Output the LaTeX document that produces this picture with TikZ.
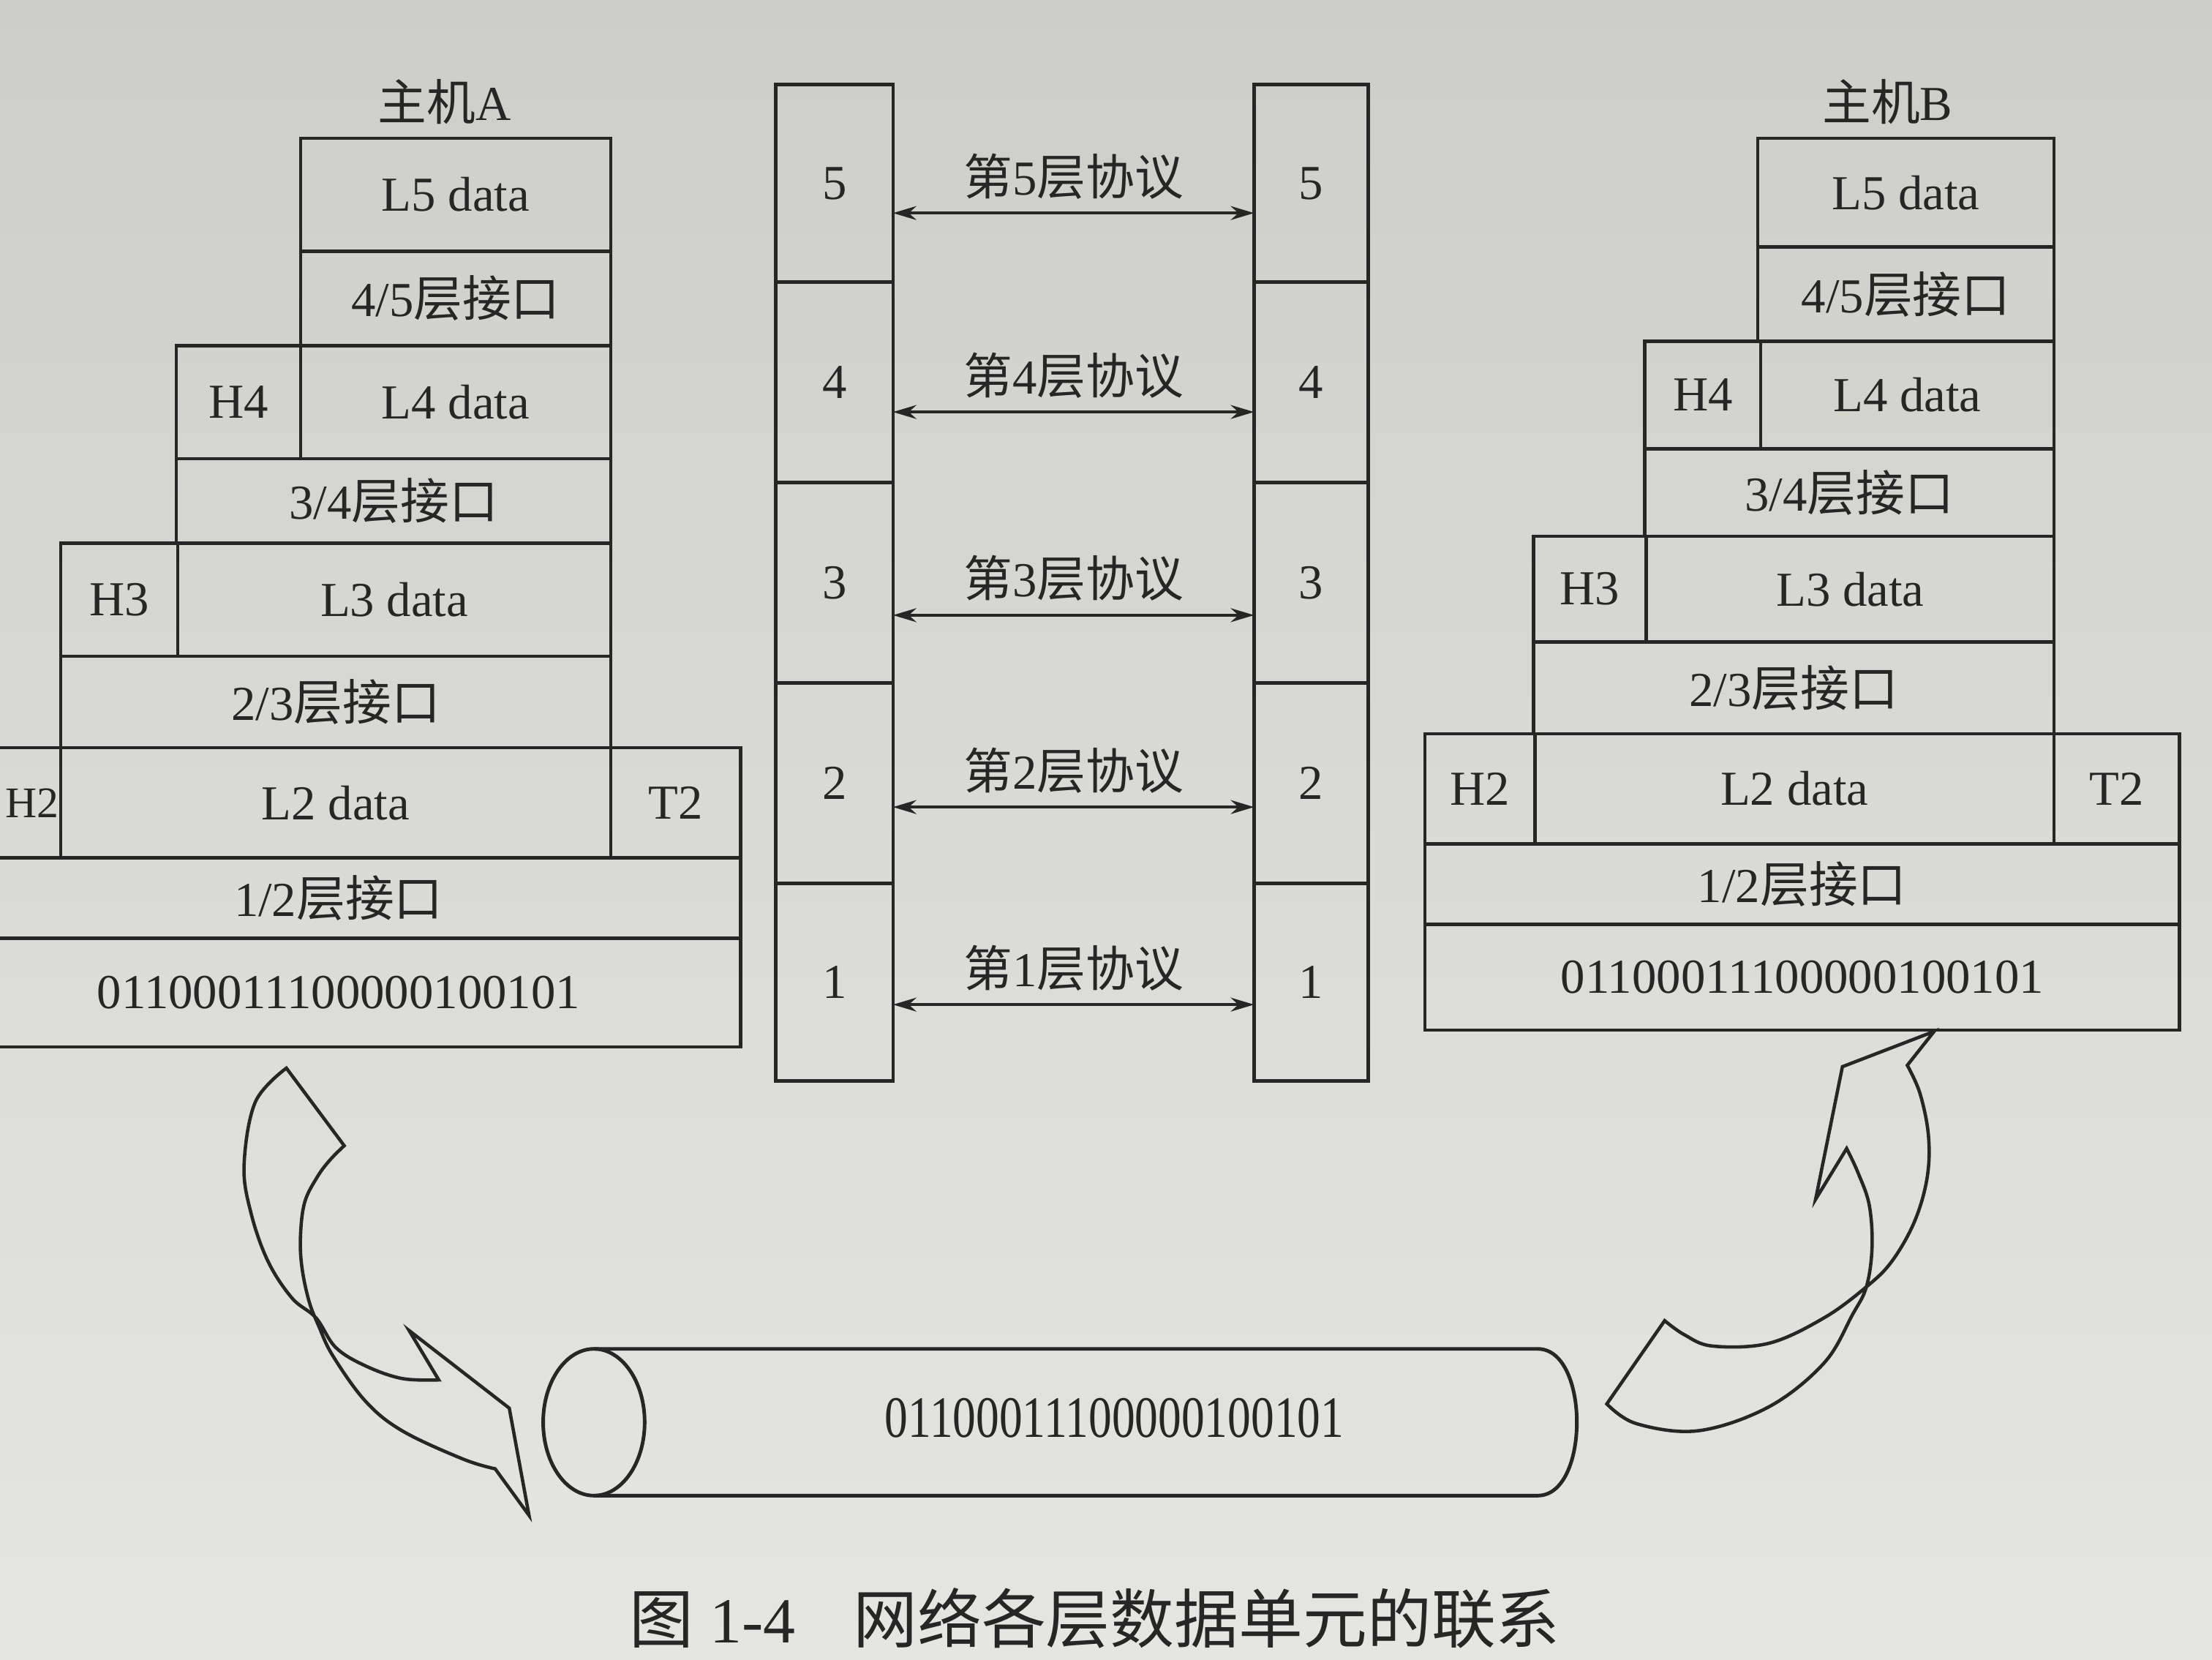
\documentclass[tikz,border=0pt]{standalone}
\usepackage{fontspec}
\setmainfont{Liberation Serif}
\newfontfamily\cjk{Noto Sans CJK SC}
\usetikzlibrary{arrows.meta,calc}
\newlength\pxu
\setlength\pxu{0.019286cm}
\definecolor{ink}{RGB}{38,38,38}
\definecolor{papertop}{RGB}{206,206,201}
\definecolor{paperbot}{RGB}{229,229,226}
\newcommand\mkbox[6]{\node[box, minimum width={(#3-(#2))*\pxu}, minimum height={(#5-(#4))*\pxu}] (#1) at ({((#2)+(#3))/2},{((#4)+(#5))/2}) {#6};}
\begin{document}
\begin{tikzpicture}[x=0.019286cm, y=-0.019286cm,
  box/.style={draw=ink, line width=1.3pt, inner sep=0pt, outer sep=0pt, text=ink, font=\fontsize{19pt}{22pt}\selectfont},
  lbl/.style={inner sep=0pt, text=ink, font=\fontsize{19pt}{22pt}\selectfont},
  proto/.style={draw=ink, line width=1.2pt, {Stealth[length=0.32cm, width=0.19cm]}-{Stealth[length=0.32cm, width=0.19cm]}},
  ribbon/.style={draw=ink, line width=1.3pt, line join=miter},
  pipe/.style={draw=ink, line width=1.4pt},
  captext/.style={inner sep=0pt, text=ink, font=\fontsize{25pt}{28pt}\selectfont}]
\useasboundingbox (0,0) rectangle (1568,1176);
\shade[top color=papertop, bottom color=paperbot] (0,0) rectangle (1568,1176);

% host A
\node[lbl] (hostA) at (315,72) {{\cjk 主机}A};
\mkbox{a5}{213}{433}{98}{178}{L5 data}
\mkbox{a45}{213}{433}{178}{245}{4/5{\cjk 层接口}}
\mkbox{aH4}{125}{213}{245}{325}{H4}
\mkbox{aL4}{213}{433}{245}{325}{L4 data}
\mkbox{a34}{125}{433}{325}{385}{3/4{\cjk 层接口}}
\mkbox{aH3}{43}{126}{385}{465}{H3}
\mkbox{aL3}{126}{433}{385}{465}{L3 data}
\mkbox{a23}{43}{433}{465}{530}{2/3{\cjk 层接口}}
\mkbox{aH2}{-45}{43}{530}{608}{}
\node[lbl, font=\fontsize{17pt}{20pt}\selectfont] (aH2t) at (23,569) {H2};
\mkbox{aL2}{43}{433}{530}{608}{L2 data}
\mkbox{aT2}{433}{525}{530}{608}{T2}
\mkbox{a12}{-45}{525}{608}{665}{1/2{\cjk 层接口}}
\mkbox{abit}{-45}{525}{665}{742}{01100011100000100101}

% host B
\node[lbl] (hostB) at (1338,72) {{\cjk 主机}B};
\mkbox{b5}{1246}{1456}{98}{175}{L5 data}
\mkbox{b45}{1246}{1456}{175}{242}{4/5{\cjk 层接口}}
\mkbox{bH4}{1166}{1248}{242}{318}{H4}
\mkbox{bL4}{1248}{1456}{242}{318}{L4 data}
\mkbox{b34}{1166}{1456}{318}{380}{3/4{\cjk 层接口}}
\mkbox{bH3}{1087}{1167}{380}{455}{H3}
\mkbox{bL3}{1167}{1456}{380}{455}{L3 data}
\mkbox{b23}{1087}{1456}{455}{520}{2/3{\cjk 层接口}}
\mkbox{bH2}{1010}{1088}{520}{598}{H2}
\mkbox{bL2}{1088}{1456}{520}{598}{L2 data}
\mkbox{bT2}{1456}{1545}{520}{598}{T2}
\mkbox{b12}{1010}{1545}{598}{655}{1/2{\cjk 层接口}}
\mkbox{bbit}{1010}{1545}{655}{730}{01100011100000100101}

% layer columns
\mkbox{l5}{550}{633}{60}{200}{5}
\mkbox{l4}{550}{633}{200}{342}{4}
\mkbox{l3}{550}{633}{342}{484}{3}
\mkbox{l2}{550}{633}{484}{626}{2}
\mkbox{l1}{550}{633}{626}{766}{1}
\mkbox{r5}{889}{970}{60}{200}{5}
\mkbox{r4}{889}{970}{200}{342}{4}
\mkbox{r3}{889}{970}{342}{484}{3}
\mkbox{r2}{889}{970}{484}{626}{2}
\mkbox{r1}{889}{970}{626}{766}{1}

% protocol arrows
\draw[proto] ($(l5.east)+(0,21)$) -- node[lbl, yshift=26*\pxu] (t5) {{\cjk 第}5{\cjk 层协议}} ($(r5.west)+(0,21)$);
\draw[proto] ($(l4.east)+(0,21)$) -- node[lbl, yshift=26*\pxu] (t4) {{\cjk 第}4{\cjk 层协议}} ($(r4.west)+(0,21)$);
\draw[proto] ($(l3.east)+(0,23)$) -- node[lbl, yshift=26*\pxu] (t3) {{\cjk 第}3{\cjk 层协议}} ($(r3.west)+(0,23)$);
\draw[proto] ($(l2.east)+(0,17)$) -- node[lbl, yshift=26*\pxu] (t2) {{\cjk 第}2{\cjk 层协议}} ($(r2.west)+(0,17)$);
\draw[proto] ($(l1.east)+(0,16)$) -- node[lbl, yshift=26*\pxu] (t1) {{\cjk 第}1{\cjk 层协议}} ($(r1.west)+(0,16)$);

% transmission medium (pipe)
\draw[pipe] (421,956) -- (1090,956) .. controls (1127,956) and (1127,1060) .. (1090,1060) -- (421,1060);
\draw[pipe] (421,1008) ellipse [x radius=0.694cm, y radius=1.003cm];
\node[lbl] (wire) at (790,1005) {\scalebox{0.95}[1.2]{01100011100000100101}};

% curved ribbon arrows
\draw[ribbon] (203,757) -- (244,812) -- plot[smooth, tension=0.6] coordinates {(244,812) (234,822) (225,834) (216,852) (213,876) (214,898) (219,922) (226,940) (236,961) (259,993) (285,1014) (328,1034) (351,1041)} -- (375,1074) -- (361,998) -- (290,943) -- (311,978) -- plot[smooth, tension=0.6] coordinates {(311,978) (285,977) (259,968) (238,955) (224,934) (207,920) (190,894) (178,860) (173,826) (181,781) (203,757)} -- cycle;
\draw[ribbon] (1180,936) -- (1139,995) -- plot[smooth, tension=0.6] coordinates {(1139,995) (1160,1009) (1204,1014) (1254,997) (1293,966) (1313,932) (1323,912) (1327,884) (1325,854) (1317,831) (1309,814)} -- (1287,850) -- (1306,756) -- (1371,731) -- (1352,755) -- plot[smooth, tension=0.6] coordinates {(1352,755) (1361,775) (1367,805) (1366,835) (1357,866) (1341,894) (1323,912) (1293,934) (1254,952) (1214,954) (1194,946) (1180,936)} -- cycle;

% caption
\node[captext] (cap) at (776,1147) {{\cjk 图} 1-4\hspace{0.9em}{\cjk 网络各层数据单元的联系}};
\end{tikzpicture}
\end{document}
